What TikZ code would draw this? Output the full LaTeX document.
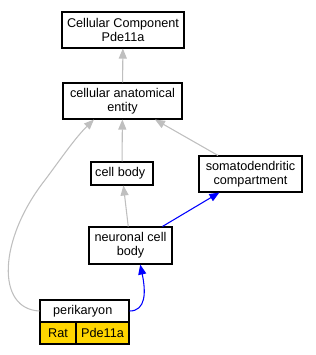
\documentclass[tikz,border=0pt]{standalone}
\usepackage{fontspec}
\setmainfont{Liberation Sans}
\definecolor{edgegray}{rgb}{0.75,0.75,0.75}
\definecolor{ratgold}{rgb}{1.0,0.84,0.0}
\usetikzlibrary{arrows.meta}
\begin{document}
\begin{tikzpicture}[
    x=0.75pt, y=-0.75pt,
    box/.style={rectangle,draw=black,line width=0.8pt,fill=white,
                align=center,inner sep=0pt,
                font=\fontsize{9.5}{10.5}\selectfont},
    tag/.style={box,fill=ratgold},
    isa/.style={-{Triangle[length=7.5pt,width=6pt]},edgegray,line width=0.8pt},
    partof/.style={-{Triangle[length=7.5pt,width=6pt]},blue,line width=0.8pt}
  ]
    \useasboundingbox (0,0) rectangle (316,355);
    \node[box,minimum width=91.5pt,minimum height=27pt] (cc) at (123,30) {
      Cellular Component\\Pde11a
    };
    \node[box,minimum width=89.25pt,minimum height=27pt] (cae) at (122.5,101) {
      cellular anatomical\\entity
    };
    \node[box,minimum width=46.5pt,minimum height=17.25pt] (cb) at (122,173.5) {
      cell body
    };
    \node[box,minimum width=77.25pt,minimum height=27pt] (som) at (250.5,174) {
      somatodendritic\\compartment
    };
    \node[box,minimum width=62.25pt,minimum height=27.75pt] (neu) at (130.5,245.5) {
      neuronal cell\\body
    };
    \node[box,minimum width=66.75pt,minimum height=16.5pt] (peri) at (84.5,311) {
      perikaryon
    };
    \node[tag,minimum width=27pt,minimum height=16.5pt] (rat) at (58,333) {Rat};
    \node[tag,minimum width=39.75pt,minimum height=16.5pt] (gene) at (102.5,333) {Pde11a};
    \draw[isa] (cae)--(cc);
    \draw[isa] (cb)--(cae);
    \draw[isa] (som)--(cae);
    \draw[isa] (neu)--(cb);
    \draw[isa] (peri.west) .. controls (-4,309) and (-2,240) .. (45,180)
      .. controls (60,160) and (75,138) .. (cae.-147);
    \draw[partof] (neu)--(som);
    \draw[partof] (peri.east) .. controls (146,311) and (146,292) .. (neu.-63);
  \end{tikzpicture}
\end{document}
